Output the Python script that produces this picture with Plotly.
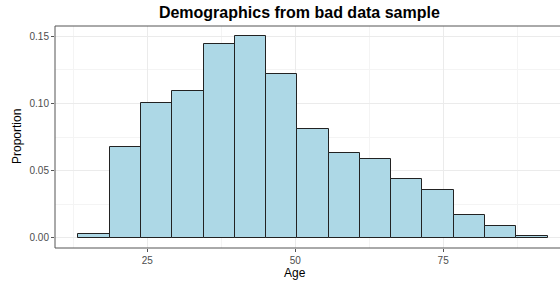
import plotly.graph_objects as go

# Data
bin_centers = [16.0, 21.286, 26.571, 31.857, 37.143, 42.429, 47.714, 53.0,
               58.286, 63.571, 68.857, 74.143, 79.429, 84.714, 90.0]
bin_width = 5.286
proportions = [0.0028, 0.0678, 0.1004, 0.1093, 0.1443, 0.1502, 0.1222, 0.0810,
               0.0631, 0.0591, 0.0442, 0.0358, 0.0169, 0.0089, 0.0017]
x_ticks = [25, 50, 75]
y_ticks = [0.00, 0.05, 0.10, 0.15]

W, H = 560, 281
L, R, T, B = 55, 0, 26, 33

fig = go.Figure()
fig.add_trace(go.Bar(
    x=bin_centers, y=proportions, width=[bin_width] * len(bin_centers),
    marker=dict(color="#ADD8E6", line=dict(color="#222222", width=1)),
    hoverinfo="x+y",
))

border = "#555555"
fig.update_layout(
    width=W, height=H,
    margin=dict(l=L, r=R, t=T, b=B, autoexpand=False),
    paper_bgcolor="white", plot_bgcolor="white",
    showlegend=False,
    font=dict(family="Liberation Sans, Arial, sans-serif", color="#4d4d4d", size=10),
    title=dict(text="<b>Demographics from bad data sample</b>",
               x=271 / W, xanchor="center", xref="paper",
               y=1 - 12 / H, yanchor="middle", yref="container",
               font=dict(size=16, color="black")),
    xaxis=dict(range=[9.39, 94.75], tickvals=x_ticks, ticks="outside", ticklen=3,
               tickcolor=border, showgrid=True, gridcolor="#ebebeb", gridwidth=1,
               minor=dict(showgrid=True, gridcolor="#f4f4f4", gridwidth=0.6, dtick=12.5, tick0=0),
               zeroline=False, showline=False, automargin=False),
    yaxis=dict(range=[-0.0075, 0.1577], tickvals=y_ticks, tickformat=".2f",
               ticks="outside", ticklen=3, tickcolor=border,
               showgrid=True, gridcolor="#ebebeb", gridwidth=1,
               minor=dict(showgrid=True, gridcolor="#f4f4f4", gridwidth=0.6, dtick=0.025, tick0=0),
               zeroline=False, showline=False, automargin=False),
    bargap=0,
)

# Axis titles as annotations for precise placement
fig.add_annotation(text="Age", xref="paper", yref="paper",
                   x=(295 - L) / (W - L - R), y=-(272.5 - (H - B)) / (H - T - B),
                   showarrow=False, xanchor="center", yanchor="middle",
                   font=dict(size=12, color="black"))
fig.add_annotation(text="Proportion", xref="paper", yref="paper",
                   x=-(L - 17) / (W - L - R), y=(H - B - 137) / (H - T - B),
                   showarrow=False, xanchor="center", yanchor="middle", textangle=-90,
                   font=dict(size=12, color="black"))

# Panel border: left, top, bottom (the right side is cut off in the reference)
for (x0, y0, x1, y1) in [(0, 0, 0, 1), (0, 1, 1, 1), (0, 0, 1, 0)]:
    fig.add_shape(type="line", xref="paper", yref="paper", x0=x0, y0=y0, x1=x1, y1=y1,
                  line=dict(color=border, width=1))

fig.write_html("out.html", config={"displayModeBar": False},
               post_script="document.body.style.margin='0';document.body.style.overflow='hidden';")
